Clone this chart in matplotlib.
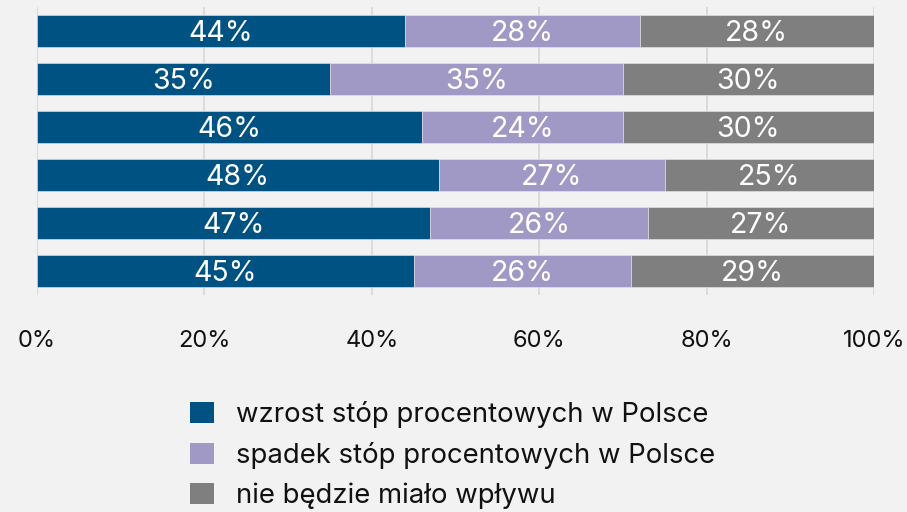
import matplotlib.pyplot as plt
from matplotlib.patches import Patch

plt.rcParams['font.family'] = ['Inter', 'DejaVu Sans']

series = ['wzrost stóp procentowych w Polsce',
          'spadek stóp procentowych w Polsce',
          'nie będzie miało wpływu']
# rows listed top to bottom
wzrost = [44, 35, 46, 48, 47, 45]
spadek = [28, 35, 24, 27, 26, 26]
brak = [28, 30, 30, 25, 27, 29]
ticks = [0, 20, 40, 60, 80, 100]
tick_labels = ['0%', '20%', '40%', '60%', '80%', '100%']

colors = ['#005283', '#A199C5', '#7F7F7F']
bg = '#F2F2F2'

fig = plt.figure(figsize=(9.07, 5.12), dpi=100, facecolor=bg)
ax = fig.add_axes([37/907, 1 - 295/512, 837/907, 288/512], facecolor=bg)

rows = list(range(len(wzrost)))
left = [0] * len(rows)
for vals, col in zip([wzrost, spadek, brak], colors):
    ax.barh(rows, vals, left=left, height=0.67, color=col,
            edgecolor='#e8e8e8', linewidth=0.4, zorder=2)
    for r, v, l in zip(rows, vals, left):
        ax.text(l + v / 2, r + 0.06, f'{v}%', ha='center', va='center',
                color='white', fontsize=20.5, zorder=3)
    left = [a + b for a, b in zip(left, vals)]

ax.set_xlim(0, 100)
ax.set_ylim(len(rows) - 0.5, -0.5)
ax.set_xticks(ticks)
ax.set_xticklabels(tick_labels)
ax.set_yticks([])
ax.tick_params(axis='x', length=0, pad=25, labelsize=17, labelcolor='#111111')
ax.grid(axis='x', color='#D9D9D9', linewidth=1.3, zorder=0)
for s in ax.spines.values():
    s.set_visible(False)

handles = [Patch(facecolor=c) for c in colors]
fig.legend(handles, series, loc='upper left',
           bbox_to_anchor=(190/907, 1 - 401/512), frameon=False,
           fontsize=19.8, handlelength=0.87, handleheight=0.8,
           handletextpad=0.8, labelspacing=0.5, borderpad=0,
           borderaxespad=0, labelcolor='#111111')

fig.savefig('out.png', dpi=100, facecolor=bg)
